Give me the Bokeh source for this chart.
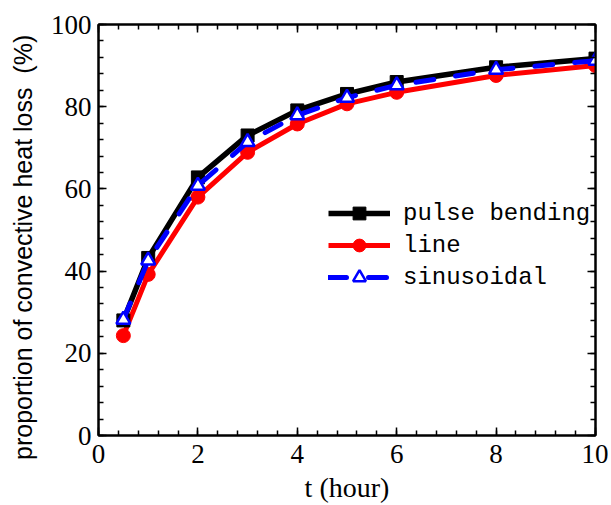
from bokeh.plotting import figure
from bokeh.models import (Range1d, FixedTicker, LinearAxis, Legend, LegendItem)
from bokeh.embed import file_html
from bokeh.resources import INLINE

# ---- data ----
t_hours = [0.5, 1, 2, 3, 4, 5, 6, 8, 10]
pulse_bending = [28.0, 43.2, 62.8, 73.0, 79.1, 83.1, 86.0, 89.6, 91.7]
line_pattern = [24.3, 39.2, 58.0, 68.9, 75.8, 80.7, 83.5, 87.6, 90.0]
sinusoidal = [28.2, 42.6, 60.8, 71.4, 77.9, 82.2, 85.2, 89.0, 91.2]

x_ticks = [0, 2, 4, 6, 8, 10]
y_ticks = [0, 20, 40, 60, 80, 100]
x_minor = [i * 0.4 for i in range(26)]
y_minor = [i * 4 for i in range(26)]

series_names = ["pulse bending", "line", "sinusoidal"]
x_label = "t (hour)"
y_label = "proportion of convective heat loss\u00a0\u00a0(%)"

p = figure(width=608, height=505, x_range=Range1d(0, 10), y_range=Range1d(0, 100),
           output_backend="svg", toolbar_location=None,
           x_axis_location=None, y_axis_location=None,
           min_border_left=98, min_border_right=13, min_border_top=24, min_border_bottom=70)
p.xgrid.visible = False
p.ygrid.visible = False
p.outline_line_color = "black"
p.outline_line_width = 2
p.background_fill_color = "white"
p.border_fill_color = "white"

def make_axis(ticks, minor, show_labels):
    ax = LinearAxis(ticker=FixedTicker(ticks=ticks, minor_ticks=minor))
    ax.axis_line_color = "black"
    ax.axis_line_width = 2
    ax.major_tick_in = 8
    ax.major_tick_out = 0
    ax.minor_tick_in = 5
    ax.minor_tick_out = 0
    ax.major_tick_line_width = 1.5
    ax.minor_tick_line_width = 1.5
    ax.major_tick_line_color = "black"
    ax.minor_tick_line_color = "black"
    if show_labels:
        ax.major_label_text_font = "Liberation Serif"
        ax.major_label_text_font_size = "27px"
        ax.major_label_text_color = "black"
        ax.major_label_standoff = 7
    else:
        ax.major_label_text_font_size = "0px"
        ax.major_label_text_color = None
        ax.major_label_standoff = 0
    return ax

xax = make_axis(x_ticks, x_minor, True)
xax.major_label_standoff = 9
xax.axis_label = x_label
xax.axis_label_text_font = "Liberation Serif"
xax.axis_label_text_font_style = "normal"
xax.axis_label_text_font_size = "28px"
xax.axis_label_text_color = "black"
xax.axis_label_standoff = 6

yax = make_axis(y_ticks, y_minor, True)
yax.axis_label = y_label + "\u00a0" * 5
yax.axis_label_text_font = "Liberation Sans"
yax.axis_label_text_font_style = "normal"
yax.axis_label_text_font_size = "25px"
yax.axis_label_text_color = "black"
yax.axis_label_standoff = 11

p.add_layout(xax, "below")
p.add_layout(yax, "left")
p.add_layout(make_axis(x_ticks, x_minor, False), "above")
p.add_layout(make_axis(y_ticks, y_minor, False), "right")

# ---- series ----
r_red_l = p.line(t_hours, line_pattern, line_color="#ff0000", line_width=5)
r_red_m = p.scatter(t_hours, line_pattern, marker="circle", size=14,
                    fill_color="#ff0000", line_color="#ff0000")
r_blk_l = p.line(t_hours, pulse_bending, line_color="black", line_width=5.5)
r_blk_m = p.scatter(t_hours, pulse_bending, marker="square", size=13,
                    fill_color="black", line_color="black")
r_blu_l = p.line(t_hours, sinusoidal, line_color="#0000ff", line_width=5,
                 line_dash="18 22", line_cap="round")
r_blu_m = p.scatter(t_hours, sinusoidal, marker="triangle", size=14,
                    fill_color="white", line_color="#0000ff", line_width=2.5)

legend = Legend(items=[
    LegendItem(label=series_names[0], renderers=[r_blk_l, r_blk_m]),
    LegendItem(label=series_names[1], renderers=[r_red_l, r_red_m]),
    LegendItem(label=series_names[2], renderers=[r_blu_l, r_blu_m]),
], location=(230, 142))
legend.border_line_color = None
legend.background_fill_alpha = 0
legend.padding = 0
legend.margin = 0
legend.spacing = 0
legend.glyph_width = 62
legend.glyph_height = 32
legend.label_height = 32
legend.label_standoff = 13
legend.label_text_font = "Liberation Mono"
legend.label_text_font_size = "24px"
legend.label_text_color = "black"
p.add_layout(legend)

open("out.html", "w").write(file_html(p, INLINE))
